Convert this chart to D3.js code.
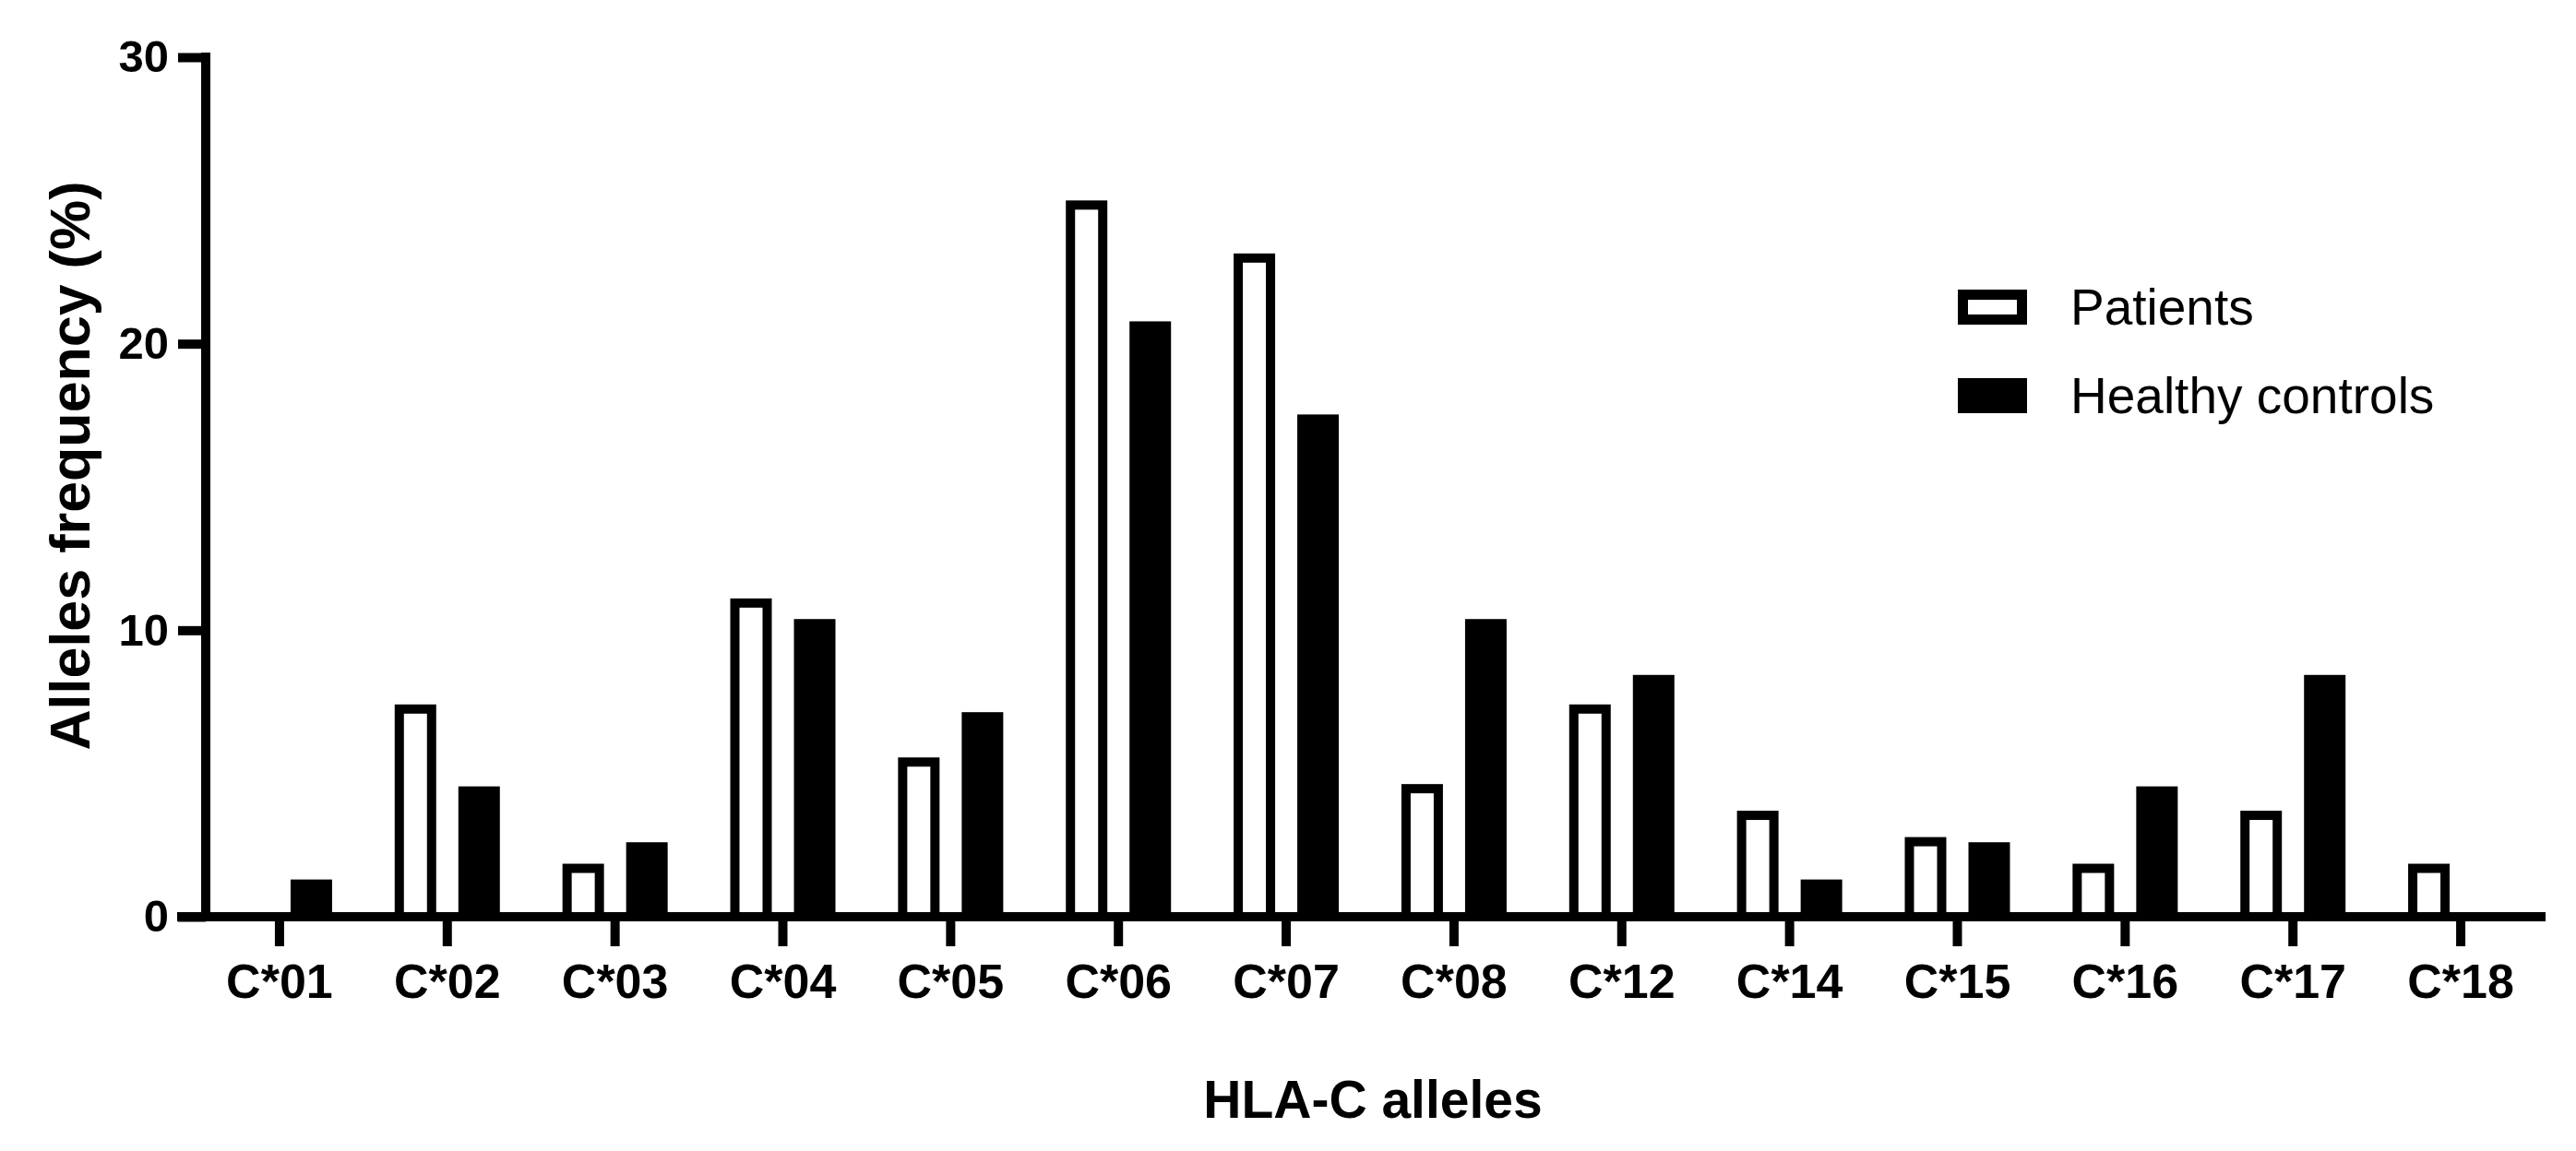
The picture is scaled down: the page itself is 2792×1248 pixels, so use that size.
<!DOCTYPE html>
<html>
<head>
<meta charset="utf-8">
<script src="https://cdn.jsdelivr.net/npm/d3@7"></script>
<style>
  body { margin: 0; background: #fff; }
  svg { display: block; }
  text { font-family: "Liberation Sans", Arial, sans-serif; fill: #000; }
</style>
</head>
<body>
<svg width="2792" height="1248"></svg>
<script>
// HLA-C allele frequencies (%)
var categories = ["C*01", "C*02", "C*03", "C*04", "C*05", "C*06", "C*07",
                  "C*08", "C*12", "C*14", "C*15", "C*16", "C*17", "C*18"];
var series = ["Patients", "Healthy controls"];
var patients = [0, 7.41, 1.85, 11.11, 5.56, 25.00, 23.15, 4.63, 7.41, 3.70, 2.78, 1.85, 3.70, 1.85];
var healthy  = [1.30, 4.55, 2.60, 10.39, 7.14, 20.78, 17.53, 10.39, 8.44, 1.30, 2.60, 4.55, 8.44, 0];
var yTicks = [0, 10, 20, 30];

var svg = d3.select("svg");
svg.append("rect").attr("width", 2792).attr("height", 1248).attr("fill", "#fff");

var axisW = 10;

//scales
var x = d3.scaleBand().domain(categories).range([212, 2758]).padding(0);
var xSub = d3.scaleBand().domain(series)
    .range([x.bandwidth() / 2 - 57, x.bandwidth() / 2 + 57])
    .paddingInner(0.348);
var y = d3.scaleLinear().domain([0, 30]).range([994, 62]);

var bw = xSub.bandwidth();

//patients: open bars
svg.append("g").selectAll("rect")
    .data(categories.map(function(c, i) { return {cat: c, v: patients[i]}; })
          .filter(function(d) { return d.v > 0; }))
    .enter().append("rect")
    .attr("x", function(d) { return x(d.cat) + xSub("Patients") + axisW / 2; })
    .attr("width", bw - axisW)
    .attr("y", function(d) { return y(d.v) + axisW / 2; })
    .attr("height", function(d) { return y(0) - y(d.v) - axisW / 2; })
    .attr("fill", "#fff")
    .attr("stroke", "#000")
    .attr("stroke-width", axisW);

//healthy controls: filled bars
svg.append("g").selectAll("rect")
    .data(categories.map(function(c, i) { return {cat: c, v: healthy[i]}; })
          .filter(function(d) { return d.v > 0; }))
    .enter().append("rect")
    .attr("x", function(d) { return x(d.cat) + xSub("Healthy controls"); })
    .attr("width", bw)
    .attr("y", function(d) { return y(d.v); })
    .attr("height", function(d) { return y(0) - y(d.v); })
    .attr("fill", "#000");

//y axis
var yAxis = svg.append("g")
    .attr("transform", "translate(223,0)")
    .call(d3.axisLeft(y).tickValues(yTicks).tickSize(30).tickSizeOuter(0).tickPadding(10));
yAxis.select(".domain").remove();
yAxis.selectAll(".tick line").attr("stroke", "#000").attr("stroke-width", axisW);
yAxis.selectAll(".tick text")
    .attr("font-size", 49).attr("font-weight", "bold")
    .attr("font-family", "Liberation Sans, Arial, sans-serif");
svg.append("line")
    .attr("x1", 223).attr("x2", 223)
    .attr("y1", y(30) - axisW / 2).attr("y2", y(0) + axisW / 2)
    .attr("stroke", "#000").attr("stroke-width", axisW);

//x axis
var xAxis = svg.append("g")
    .attr("transform", "translate(0," + y(0) + ")")
    .call(d3.axisBottom(x).tickSize(32).tickSizeOuter(0).tickPadding(19));
xAxis.select(".domain").remove();
xAxis.selectAll(".tick line").attr("stroke", "#000").attr("stroke-width", axisW);
xAxis.selectAll(".tick text")
    .attr("font-size", 52).attr("font-weight", "bold")
    .attr("font-family", "Liberation Sans, Arial, sans-serif");
svg.append("line")
    .attr("x1", 192).attr("x2", 2759)
    .attr("y1", y(0)).attr("y2", y(0))
    .attr("stroke", "#000").attr("stroke-width", axisW);

//axis titles
svg.append("text")
    .attr("transform", "translate(97,505) rotate(-90)")
    .attr("text-anchor", "middle")
    .attr("font-size", 61).attr("font-weight", "bold")
    .text("Alleles frequency (%)");

svg.append("text")
    .attr("x", 1488).attr("y", 1212)
    .attr("text-anchor", "middle")
    .attr("font-size", 57).attr("font-weight", "bold")
    .text("HLA-C alleles");

//legend
var legend = svg.append("g").selectAll("g")
    .data(series)
    .enter().append("g")
    .attr("transform", function(d, i) { return "translate(2122," + (314 + i * 96) + ")"; });

legend.append("rect")
    .attr("x", function(d, i) { return i == 0 ? 5.5 : 0; })
    .attr("y", function(d, i) { return i == 0 ? 5.5 : 0; })
    .attr("width", function(d, i) { return i == 0 ? 64 : 75; })
    .attr("height", function(d, i) { return i == 0 ? 27 : 38; })
    .attr("fill", function(d, i) { return i == 0 ? "#fff" : "#000"; })
    .attr("stroke", function(d, i) { return i == 0 ? "#000" : "none"; })
    .attr("stroke-width", 11);

legend.append("text")
    .attr("x", 122).attr("y", 38)
    .attr("font-size", 55)
    .text(function(d) { return d; });
</script>
</body>
</html>
